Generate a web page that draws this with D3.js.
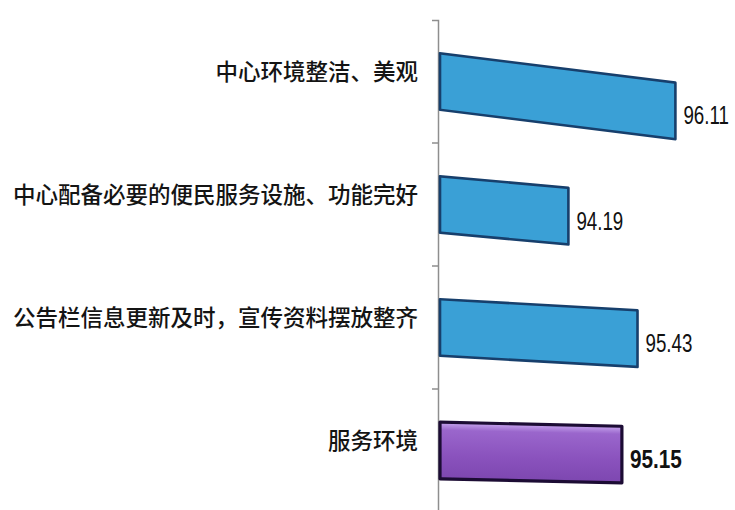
<!DOCTYPE html>
<html>
<head>
<meta charset="utf-8">
<script src="https://cdn.jsdelivr.net/npm/d3@7"></script>
<style>
  html, body { margin: 0; padding: 0; background: #ffffff; }
  svg { display: block; }
</style>
</head>
<body>
<svg id="chart" width="735" height="510"></svg>
<script>
// ---- data ----
const categories = [
  "中心环境整洁、美观",
  "中心配备必要的便民服务设施、功能完好",
  "公告栏信息更新及时，宣传资料摆放整齐",
  "服务环境"
];
const values = [96.11, 94.19, 95.43, 95.15];
const summaryCategory = "服务环境";
const xDomain = [91.85, 97];

// ---- layout ----
const axisX = 438;
const svg = d3.select("#chart");

const x = d3.scaleLinear().domain(xDomain).range([axisX, 725]);
const y = d3.scaleBand().domain(categories).range([20, 512])
  .paddingInner(0.54).paddingOuter(0.27);

// photo tilt: bars in the reference lean downward to the right, stronger near the top
function tilt(yc) {
  const t = (yc - 20) / 492;
  return 0.142 - 0.137 * t;
}

const defs = svg.append("defs");
const pg = defs.append("linearGradient").attr("id", "purpleGrad")
  .attr("x1", 0).attr("y1", 0).attr("x2", 0).attr("y2", 1);
pg.append("stop").attr("offset", "0%").attr("stop-color", "#c7a6ee");
pg.append("stop").attr("offset", "14%").attr("stop-color", "#9a66cc");
pg.append("stop").attr("offset", "60%").attr("stop-color", "#8a52bd");
pg.append("stop").attr("offset", "100%").attr("stop-color", "#7d47b0");

const data = categories.map((c, i) => ({ cat: c, val: values[i] }));

// ---- axis ----
const axis = d3.axisLeft(y).tickSizeInner(0).tickSizeOuter(6).tickPadding(20);
const gAxis = svg.append("g").attr("transform", `translate(${axisX},0)`).call(axis);
gAxis.select(".domain").attr("stroke", "#8e8e8e").attr("stroke-width", 1.5);
gAxis.selectAll(".tick line").remove();
gAxis.selectAll(".tick text")
  .attr("font-family", "'Noto Sans CJK SC', sans-serif")
  .attr("font-size", 22.5)
  .attr("font-weight", 500)
  .attr("fill", "#141414")
  .attr("dy", "-0.05em");

// category boundary ticks
const boundaries = categories.slice(1).map(c => y(c) - y.step() * y.paddingInner() / 2);
gAxis.selectAll(".bound").data(boundaries).join("line")
  .attr("class", "bound")
  .attr("x1", -6).attr("x2", 0)
  .attr("y1", d => d).attr("y2", d => d)
  .attr("stroke", "#8e8e8e").attr("stroke-width", 1.5);

// ---- bars ----
const x0 = x(xDomain[0]) + 2;
const rows = svg.selectAll(".row").data(data).join("g")
  .attr("class", "row")
  .attr("transform", d => {
    const yc = y(d.cat) + y.bandwidth() / 2;
    const ang = Math.atan(tilt(yc)) * 180 / Math.PI;
    return `translate(${x0},0) skewY(${ang}) translate(${-x0},0)`;
  });

rows.append("rect")
  .attr("x", x0)
  .attr("y", d => y(d.cat))
  .attr("width", d => x(d.val) - x0)
  .attr("height", y.bandwidth())
  .attr("fill", d => d.cat === summaryCategory ? "url(#purpleGrad)" : "#3aa0d6")
  .attr("stroke", d => d.cat === summaryCategory ? "#1c0c34" : "#173f6c")
  .attr("stroke-width", d => d.cat === summaryCategory ? 3.2 : 2.6)
  .attr("stroke-linejoin", "round");

// ---- value labels (horizontally condensed) ----
svg.selectAll(".val").data(data).join("text")
  .attr("class", "val")
  .attr("transform", d => {
    const yc = y(d.cat) + y.bandwidth() / 2;
    const ty = yc + tilt(yc) * (x(d.val) - x0) + 5;
    return `translate(${x(d.val) + 8},${ty}) scale(${d.cat === summaryCategory ? 0.83 : 0.75},1)`;
  })
  .attr("dominant-baseline", "central")
  .attr("font-family", "'Liberation Sans', Arial, sans-serif")
  .attr("font-size", 25)
  .attr("font-weight", d => d.cat === summaryCategory ? "bold" : "normal")
  .attr("fill", "#111")
  .text(d => d.val.toFixed(2));
</script>
</body>
</html>
